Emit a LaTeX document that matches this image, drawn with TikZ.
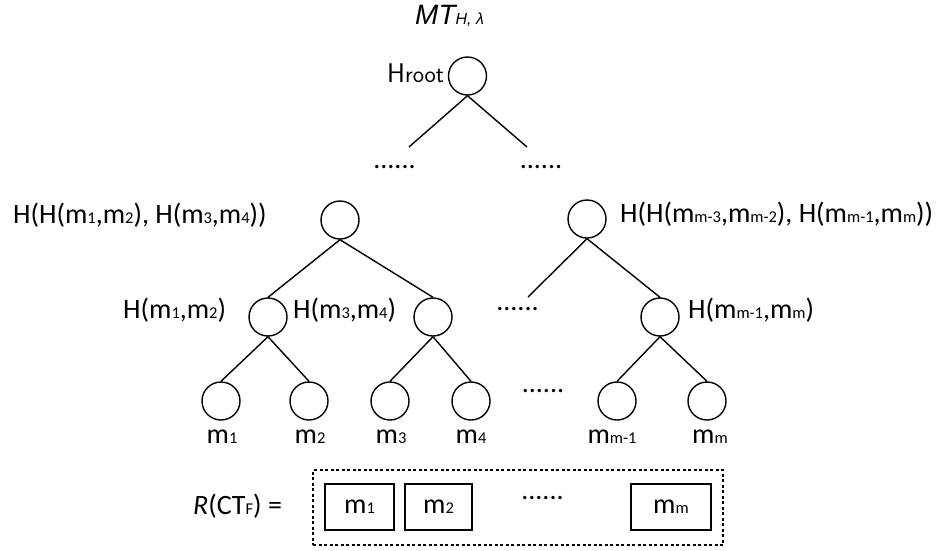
\documentclass[tikz,border=0pt]{standalone}
\usepackage{fontspec}
\setmainfont{Carlito}
\newfontfamily\titlefont{Liberation Sans}
\newcommand\sbs[1]{{\fontsize{16.5}{18}\selectfont #1}}
\begin{document}
\begin{tikzpicture}[x=1pt,y=-1pt,
  nd/.style={draw,circle,minimum size=38pt,inner sep=0pt,line width=1.4pt},
  lab/.style={font=\fontsize{28}{30}\selectfont,inner sep=0pt,anchor=base west},
  leaflab/.style={font=\fontsize{28}{30}\selectfont,inner sep=0pt,anchor=base},
  edge/.style={line width=1.4pt},
  dotsnode/.style={font=\fontsize{28}{30}\selectfont,inner sep=0pt,anchor=base},
  mbox/.style={draw,line width=1.3pt,minimum height=46pt,inner sep=0pt,font=\fontsize{28}{30}\selectfont}]
\useasboundingbox (0,0) rectangle (941,550);
% title
\node[anchor=base west,inner sep=0pt] (title) at (415,24)
  {\titlefont\itshape\fontsize{28}{30}\selectfont MT{\fontsize{16}{18}\selectfont H, λ}};
% root
\node[nd] (root) at (467.5,76) {};
\node[anchor=base west,inner sep=0pt] (lroot) at (387,82)
  {\sffamily\fontsize{27}{28}\selectfont H{\fontsize{24}{26}\selectfont root}};
\coordinate (rl) at (409,147);
\coordinate (rr) at (527,147);
\draw[edge] (root.south) -- (rl);
\draw[edge] (root.south) -- (rr);
\node[dotsnode] (d1) at (394.5,168) {......};
\node[dotsnode] (d2) at (541,168) {......};
% level 2
\node[nd] (L) at (340,220) {};
\node[nd] (R) at (587,219) {};
\node[lab] (lL) at (13,223) {H(H(m\sbs{1},m\sbs{2}), H(m\sbs{3},m\sbs{4}))};
\node[lab] (lR) at (620,222) {H(H(m\sbs{m-3},m\sbs{m-2}), H(m\sbs{m-1},m\sbs{m}))};
% level 3
\node[nd] (A) at (268,317) {};
\node[nd] (B) at (433,317) {};
\node[nd] (C) at (660,317) {};
\coordinate (rdl) at (528,297);
\draw[edge] (L.south) -- (A.north);
\draw[edge] (L.south) -- (B.north);
\draw[edge] (R.south) -- (rdl);
\draw[edge] (R.south) -- (C.north);
\node[dotsnode] (d3) at (517.5,310) {......};
\node[lab] (lA) at (123,318) {H(m\sbs{1},m\sbs{2})};
\node[lab] (lB) at (293,318) {H(m\sbs{3},m\sbs{4})};
\node[lab] (lC) at (688,318) {H(m\sbs{m-1},m\sbs{m})};
% leaves
\node[nd] (m1) at (221,401) {};
\node[nd] (m2) at (309,401) {};
\node[nd] (m3) at (390,401) {};
\node[nd] (m4) at (471,401) {};
\node[nd] (m5) at (617,401) {};
\node[nd] (m6) at (707,401) {};
\draw[edge] (A.south) -- (m1.north);
\draw[edge] (A.south) -- (m2.north);
\draw[edge] (B.south) -- (m3.north);
\draw[edge] (B.south) -- (m4.north);
\draw[edge] (C.south) -- (m5.north);
\draw[edge] (C.south) -- (m6.north);
\node[dotsnode] (d4) at (543,392) {......};
\node[leaflab] (l1) at (222,443) {m\sbs{1}};
\node[leaflab] (l2) at (310,443) {m\sbs{2}};
\node[leaflab] (l3) at (391,443) {m\sbs{3}};
\node[leaflab] (l4) at (471,443) {m\sbs{4}};
\node[leaflab] (l5) at (612,443) {m\sbs{m-1}};
\node[leaflab] (l6) at (710,443) {m\sbs{m}};
% bottom
\node[draw,dash pattern=on 3pt off 2.5pt,line width=1.1pt,minimum width=410pt,minimum height=75pt,inner sep=0pt] (frame) at (518,507.5) {};
\node[mbox,minimum width=69pt] (b1) at (359.5,507) {m\sbs{1}};
\node[mbox,minimum width=67pt] (b2) at (438.5,507) {m\sbs{2}};
\node[mbox,minimum width=80pt] (b3) at (671,507) {m\sbs{m}};
\node[dotsnode] (d5) at (542.5,499) {......};
\node[anchor=base west,inner sep=0pt,font=\fontsize{28}{30}\selectfont] (rct) at (193,514) {\textit{R}(CT\sbs{F}) =};
\end{tikzpicture}
\end{document}
